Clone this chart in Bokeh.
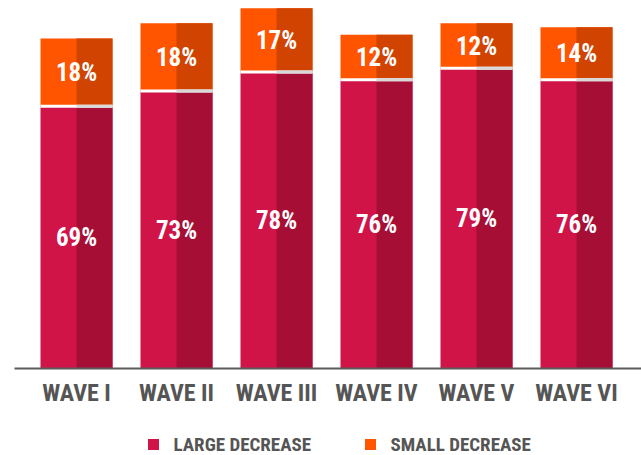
from bokeh.plotting import figure
from bokeh.models import ColumnDataSource, Range1d
from bokeh.core.properties import value
from bokeh.embed import file_html
from bokeh.resources import INLINE

categories = ["WAVE I", "WAVE II", "WAVE III", "WAVE IV", "WAVE V", "WAVE VI"]
large = [69, 73, 78, 76, 79, 76]
small = [18, 18, 17, 12, 12, 14]
series_names = ["LARGE DECREASE", "SMALL DECREASE"]

RED_L, RED_D = "#D11447", "#A60E36"
ORG_L, ORG_D = "#FF5500", "#D04300"
TXT = "#555555"
FONT = "Roboto Condensed, Roboto"

W, H = 641, 455
p = figure(width=W, height=H, output_backend="svg", toolbar_location=None,
           min_border=0, outline_line_color=None)
p.x_range = Range1d(-0.76, -0.76 + W / 100.0)
ppu = 3.793
p.y_range = Range1d(-(H - 368) / ppu, 368 / ppu)
p.axis.visible = False
p.grid.visible = False
p.background_fill_color = "white"
p.border_fill_color = "white"

n = len(categories)
xs = list(range(n))
hw = 0.36
tops = [a + b for a, b in zip(large, small)]
src = ColumnDataSource(dict(
    x=xs, left=[x - hw for x in xs], mid=xs, right=[x + hw for x in xs],
    large=large, small=small, top=tops, zero=[0] * n,
    sep_lo=[a - 0.25 for a in large], sep_hi=[a + 0.55 for a in large],
    lab_l=[f"{v}%" for v in large], lab_s=[f"{v}%" for v in small],
    y_l=[a / 2 for a in large], y_s=[a + b / 2 for a, b in zip(large, small)],
    cat=categories,
))

# large segments (full light, then dark right half on top)
p.quad(left="left", right="right", bottom="zero", top="large", source=src,
       fill_color=RED_L, line_color=None)
p.quad(left="mid", right="right", bottom="zero", top="large", source=src,
       fill_color=RED_D, line_color=None)
# small segments
p.quad(left="left", right="right", bottom="large", top="top", source=src,
       fill_color=ORG_L, line_color=None)
p.quad(left="mid", right="right", bottom="large", top="top", source=src,
       fill_color=ORG_D, line_color=None)
# separators
p.quad(left="left", right="right", bottom="sep_lo", top="sep_hi", source=src,
       fill_color="#FFFFFF", line_color=None)
p.quad(left="mid", right="right", bottom="sep_lo", top="sep_hi", source=src,
       fill_color="#D9D9D9", line_color=None)

# baseline
p.segment(x0=[-0.62], y0=[0], x1=[6.0], y1=[0], line_color="#5A5A5A", line_width=2)

# value labels
p.text(x="x", y="y_l", text="lab_l", source=src, text_color="white",
       text_font=value(FONT), text_font_style="bold", text_font_size="25px",
       text_align="center", text_baseline="middle")
p.text(x="x", y="y_s", text="lab_s", source=src, text_color="white",
       text_font=value(FONT), text_font_style="bold", text_font_size="25px",
       text_align="center", text_baseline="middle")

# category labels
p.text(x="x", y=-24 / ppu, text="cat", source=src, text_color=TXT,
       text_font=value(FONT), text_font_style="bold", text_font_size="24px",
       text_align="center", text_baseline="middle")

# legend
leg = ColumnDataSource(dict(
    sx=[1.53 - 0.76, 3.70 - 0.76], tx=[1.73 - 0.76, 3.90 - 0.76],
    y=[-76 / ppu, -76 / ppu], name=series_names, color=[RED_L, ORG_L],
))
p.scatter(x="sx", y="y", source=leg, marker="square", size=11,
          fill_color="color", line_color=None)
p.text(x="tx", y="y", text="name", source=leg, text_color=TXT,
       text_font=value(FONT), text_font_style="bold", text_font_size="19px",
       text_align="left", text_baseline="middle")

open("out.html", "w").write(file_html(p, INLINE))
